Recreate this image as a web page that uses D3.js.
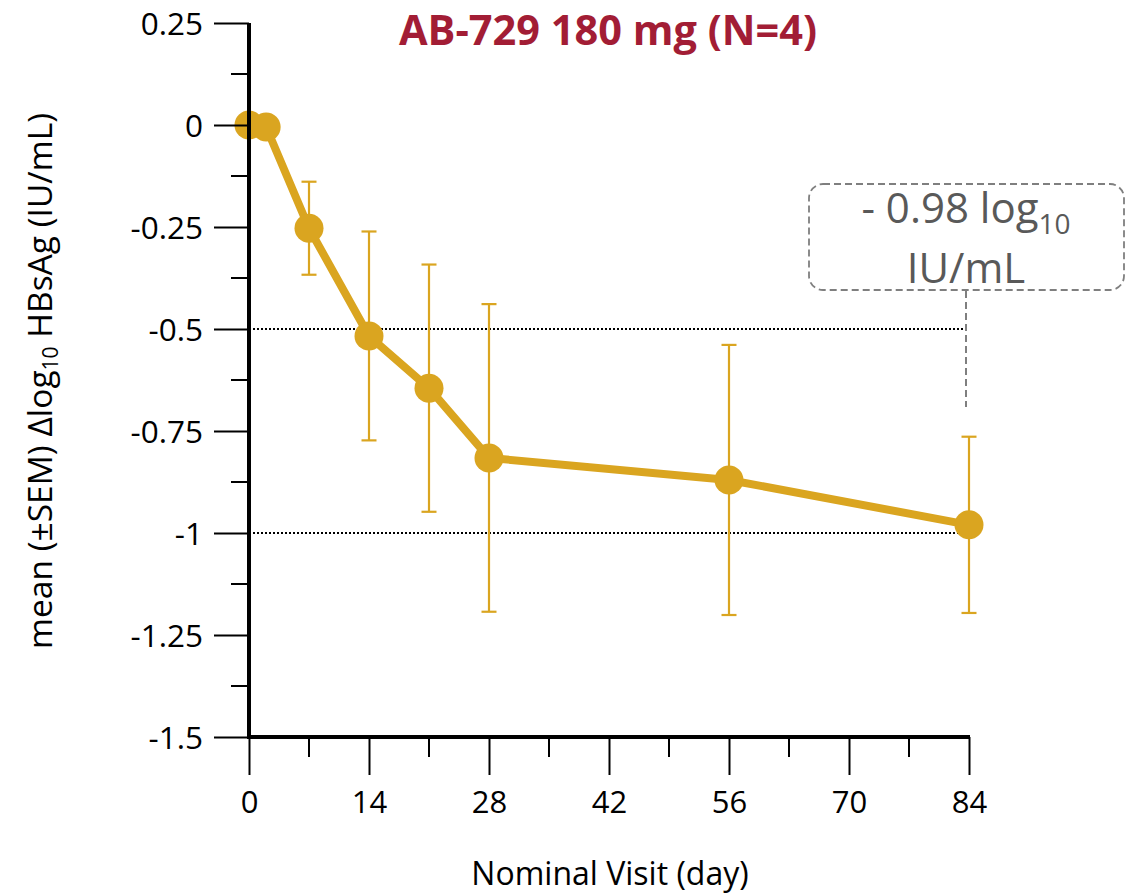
<!DOCTYPE html>
<html>
<head>
<meta charset="utf-8">
<script src="https://cdn.jsdelivr.net/npm/d3@7"></script>
<style>
  html, body { margin: 0; padding: 0; background: #ffffff; }
  svg { display: block; }
  text { font-family: "Open Sans", "DejaVu Sans", sans-serif; }
</style>
</head>
<body>
<div id="chart"></div>
<script>
// ---- Data ----
const days  = [0, 2, 7, 14, 21, 28, 56, 84];
const means = [0, -0.005, -0.253, -0.517, -0.645, -0.816, -0.870, -0.980];
const sems  = [0, 0, 0.114, 0.256, 0.303, 0.377, 0.331, 0.216];

const xTickValues = [0, 14, 28, 42, 56, 70, 84];
const xMinorTicks = [7, 21, 35, 49, 63, 77];
const yTickValues = [0.25, 0, -0.25, -0.5, -0.75, -1, -1.25, -1.5];
const yTickLabels = ["0.25", "0", "-0.25", "-0.5", "-0.75", "-1", "-1.25", "-1.5"];
const yMinorTicks = [0.125, -0.125, -0.375, -0.625, -0.875, -1.125, -1.375];
const refLines = [-0.5, -1];

const titleText = "AB-729 180 mg (N=4)";
const xTitle = "Nominal Visit (day)";
const annotValue = -0.98;
const annotDay = 84;

// ---- Layout ----
const W = 1137, H = 894;
const margin = { left: 249, top: 23, right: W - 969, bottom: H - 737 };
const gold = "#daa520";

const svg = d3.select("#chart").append("svg")
  .attr("width", W).attr("height", H);

const x = d3.scaleLinear().domain([0, 84]).range([margin.left, W - margin.right]);
const y = d3.scaleLinear().domain([0.25, -1.5]).range([margin.top, H - margin.bottom]);

// Reference dotted lines
svg.append("g").selectAll("line").data(refLines).join("line")
  .attr("x1", x(0)).attr("x2", x(annotDay) - 3)
  .attr("y1", d => y(d)).attr("y2", d => y(d))
  .attr("stroke", "#000").attr("stroke-width", 1.8)
  .attr("stroke-dasharray", "2,2");

// Annotation box + connector
const ann = svg.append("g");
ann.append("rect")
  .attr("x", 809).attr("y", 184).attr("width", 315).attr("height", 106)
  .attr("rx", 14).attr("ry", 14)
  .attr("fill", "none").attr("stroke", "#7f7f7f")
  .attr("stroke-width", 1.8).attr("stroke-dasharray", "7,4");
ann.append("line")
  .attr("x1", x(annotDay) - 3).attr("x2", x(annotDay) - 3)
  .attr("y1", 291).attr("y2", 407)
  .attr("stroke", "#7f7f7f").attr("stroke-width", 2)
  .attr("stroke-dasharray", "7,4");
const at1 = ann.append("text")
  .attr("x", 966).attr("y", 223)
  .attr("text-anchor", "middle")
  .attr("font-size", 42).attr("fill", "#595959");
at1.append("tspan").text("- " + Math.abs(annotValue).toFixed(2) + " log");
at1.append("tspan").attr("font-size", 28).attr("dy", 11).text("10");
ann.append("text")
  .attr("x", 966).attr("y", 283)
  .attr("text-anchor", "middle")
  .attr("font-size", 42).attr("fill", "#595959")
  .text("IU/mL");

// Data records
const data = days.map((d, i) => ({ day: d, mean: means[i], sem: sems[i] }));

// Error bars
const eb = svg.append("g").selectAll("g").data(data.filter(d => d.sem > 0)).join("g");
eb.append("line")
  .attr("x1", d => x(d.day)).attr("x2", d => x(d.day))
  .attr("y1", d => y(d.mean + d.sem)).attr("y2", d => y(d.mean - d.sem))
  .attr("stroke", gold).attr("stroke-width", 2.2);
eb.append("line")
  .attr("x1", d => x(d.day) - 7.5).attr("x2", d => x(d.day) + 7.5)
  .attr("y1", d => y(d.mean + d.sem)).attr("y2", d => y(d.mean + d.sem))
  .attr("stroke", gold).attr("stroke-width", 2.2);
eb.append("line")
  .attr("x1", d => x(d.day) - 7.5).attr("x2", d => x(d.day) + 7.5)
  .attr("y1", d => y(d.mean - d.sem)).attr("y2", d => y(d.mean - d.sem))
  .attr("stroke", gold).attr("stroke-width", 2.2);

// Line
svg.append("path").datum(data)
  .attr("fill", "none").attr("stroke", gold).attr("stroke-width", 8)
  .attr("stroke-linejoin", "round")
  .attr("d", d3.line().x(d => x(d.day)).y(d => y(d.mean)));

// Markers
svg.append("g").selectAll("circle").data(data).join("circle")
  .attr("cx", d => x(d.day)).attr("cy", d => y(d.mean))
  .attr("r", 14.5).attr("fill", gold);

// ---- Axes ----
// X axis
const xAxis = svg.append("g").attr("transform", `translate(0,${y(-1.5)})`);
xAxis.selectAll("line.minor").data(xMinorTicks).join("line")
  .attr("class", "minor")
  .attr("x1", d => x(d)).attr("x2", d => x(d))
  .attr("y1", 0).attr("y2", 20)
  .attr("stroke", "#000").attr("stroke-width", 2);
xAxis.call(d3.axisBottom(x).tickValues(xTickValues).tickSize(38).tickPadding(6)
  .tickFormat(d3.format("d")))
  .call(g => g.select(".domain").remove())
  .call(g => g.selectAll(".tick line").attr("stroke", "#000").attr("stroke-width", 2))
  .call(g => g.selectAll(".tick text")
    .attr("font-family", "'Open Sans', sans-serif")
    .attr("font-size", 31).attr("fill", "#000")
    .attr("dy", null).attr("y", 76));
svg.append("line")
  .attr("x1", x(0) - 2).attr("x2", x(84) + 1)
  .attr("y1", y(-1.5)).attr("y2", y(-1.5))
  .attr("stroke", "#000").attr("stroke-width", 4);

// Y axis
const yAxis = svg.append("g").attr("transform", `translate(${x(0)},0)`);
yAxis.selectAll("line.minor").data(yMinorTicks).join("line")
  .attr("class", "minor")
  .attr("x1", -18).attr("x2", 0)
  .attr("y1", d => y(d)).attr("y2", d => y(d))
  .attr("stroke", "#000").attr("stroke-width", 2);
yAxis.call(d3.axisLeft(y).tickValues(yTickValues).tickSize(35).tickPadding(10)
  .tickFormat((d, i) => yTickLabels[i]))
  .call(g => g.select(".domain").remove())
  .call(g => g.selectAll(".tick line").attr("stroke", "#000").attr("stroke-width", 2))
  .call(g => g.selectAll(".tick text")
    .attr("font-family", "'Open Sans', sans-serif")
    .attr("font-size", 31.5).attr("fill", "#000")
    .attr("dy", null).attr("y", 11).attr("x", -46));
svg.append("line")
  .attr("x1", x(0)).attr("x2", x(0))
  .attr("y1", y(0.25)).attr("y2", y(-1.5) + 2)
  .attr("stroke", "#000").attr("stroke-width", 4);

// Titles
svg.append("text")
  .attr("x", 608).attr("y", 45)
  .attr("text-anchor", "middle")
  .attr("font-size", 41.5).attr("font-weight", "bold")
  .attr("fill", "#a21d35")
  .text(titleText);

svg.append("text")
  .attr("x", 610).attr("y", 885)
  .attr("text-anchor", "middle")
  .attr("font-size", 32).attr("fill", "#000")
  .text(xTitle);

const yt = svg.append("text")
  .attr("transform", "translate(52,381) rotate(-90)")
  .attr("text-anchor", "middle")
  .attr("font-size", 33.5).attr("fill", "#000");
yt.append("tspan").text("mean (\u00b1SEM) \u0394log");
yt.append("tspan").attr("font-size", 21).attr("dy", 6).text("10");
yt.append("tspan").attr("dy", -6).text(" HBsAg (IU/mL)");
</script>
</body>
</html>
